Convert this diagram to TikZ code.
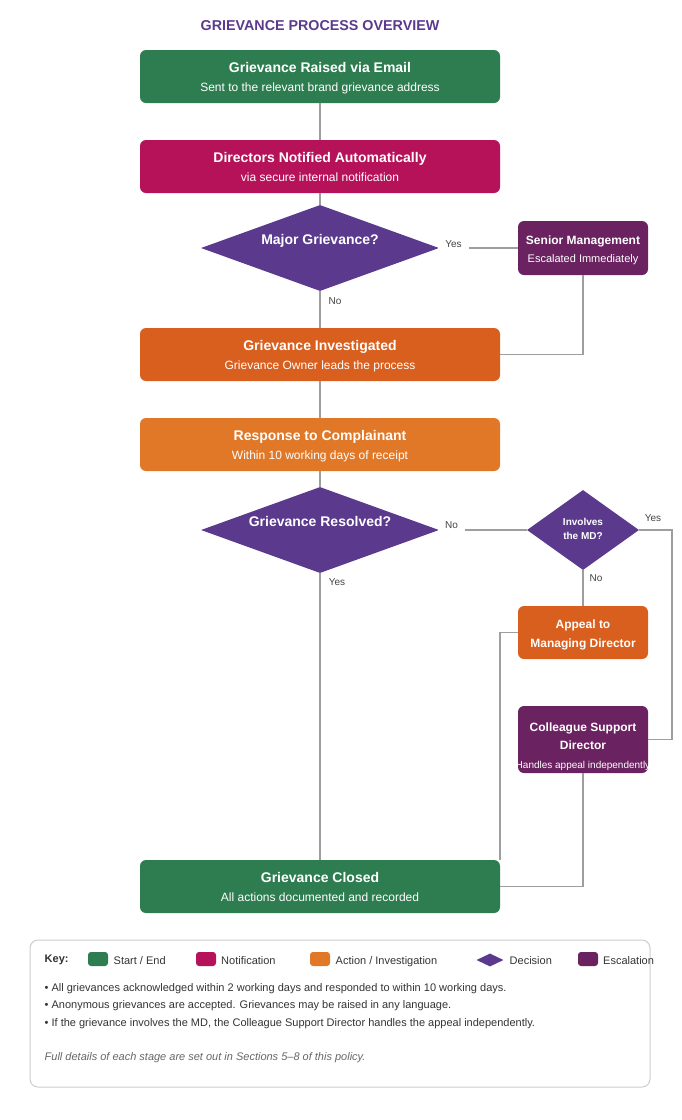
\documentclass[tikz,border=0pt]{standalone}
\usepackage{fontspec}
\setmainfont{Liberation Sans}
\usetikzlibrary{shapes.geometric}
\definecolor{cGreen}{RGB}{46,125,80}
\definecolor{cMag}{RGB}{181,18,90}
\definecolor{cDec}{RGB}{91,58,142}
\definecolor{cEsc}{RGB}{106,34,96}
\definecolor{cOrD}{RGB}{217,95,30}
\definecolor{cOrL}{RGB}{224,120,40}
\definecolor{cLine}{RGB}{158,158,158}
\definecolor{cLab}{RGB}{68,68,68}
\definecolor{cTxt}{RGB}{51,51,51}
\definecolor{cNote}{RGB}{102,102,102}
\definecolor{cKey}{RGB}{204,204,204}
\tikzset{
  box/.style={rounded corners=6pt, minimum width=360pt, minimum height=53pt, inner sep=0pt},
  sbox/.style={rounded corners=6pt, minimum width=130pt, minimum height=53pt, inner sep=0pt},
  dec/.style={diamond, fill=cDec, inner sep=0pt},
  txt/.style={anchor=mid, yshift=-2.5pt},
  ttl/.style={txt, text=white, font=\bfseries\fontsize{14}{16}\selectfont},
  stl/.style={txt, text=white, font=\bfseries\fontsize{12}{14}\selectfont},
  sub/.style={txt, text=white, font=\fontsize{12}{14}\selectfont},
  ssub/.style={txt, text=white, font=\fontsize{11}{13}\selectfont},
  lab/.style={txt, text=cLab, font=\fontsize{10}{12}\selectfont},
  gaplab/.style={lab, fill=white, inner xsep=7pt, inner ysep=6pt},
  conn/.style={draw=cLine, line width=1.5pt},
  swatch/.style={rounded corners=3pt, minimum width=20pt, minimum height=14pt, inner sep=0pt},
  keytxt/.style={text=cTxt, font=\fontsize{11}{13}\selectfont, anchor=mid west, inner sep=0pt, yshift=-2pt},
  bul/.style={text=cTxt, font=\fontsize{11}{13}\selectfont, anchor=mid west, inner sep=0pt, yshift=-2pt},
}
\begin{document}
\begin{tikzpicture}[x=1pt,y=-1pt]
\path[use as bounding box] (0,0) rectangle (682,1120);

\node[txt, text=cDec, font=\bfseries\fontsize{14.3}{16}\selectfont] (title) at (320,25) {GRIEVANCE PROCESS OVERVIEW};

% nodes
\node[box, fill=cGreen] (b1) at (320,76.5) {};
\node[box, fill=cMag] (b2) at (320,166.5) {};
\node[dec, minimum width=238pt, minimum height=86pt] (d1) at (320,248) {};
\node[sbox, fill=cEsc, minimum height=54pt] (sm) at (583,248) {};
\node[box, fill=cOrD] (b3) at (320,354.5) {};
\node[box, fill=cOrL] (b4) at (320,444.5) {};
\node[dec, minimum width=238pt, minimum height=86pt] (d2) at (320,530) {};
\node[dec, minimum width=112pt, minimum height=80pt] (d3) at (583,530) {};
\node[sbox, fill=cOrD] (ap) at (583,632.5) {};
\node[sbox, fill=cEsc, minimum height=67pt] (cs) at (583,739.5) {};
\node[box, fill=cGreen] (cl) at (320,886.5) {};

% texts
\node[ttl] (t1) at (320,67) {Grievance Raised via Email};
\node[sub] (s1) at (320,86) {Sent to the relevant brand grievance address};
\node[ttl] (t2) at (320,157) {Directors Notified Automatically};
\node[sub] (s2) at (320,176) {via secure internal notification};
\node[ttl] (td1) at (320,239) {Major Grievance?};
\node[stl] (tsm) at (583,239) {Senior Management};
\node[ssub] (ssm) at (583,257) {Escalated Immediately};
\node[ttl] (t3) at (320,345.5) {Grievance Investigated};
\node[sub] (s3) at (320,364) {Grievance Owner leads the process};
\node[ttl] (t4) at (320,435.5) {Response to Complainant};
\node[sub] (s4) at (320,454) {Within 10 working days of receipt};
\node[ttl] (td2) at (320,521) {Grievance Resolved?};
\node[txt, text=white, font=\bfseries\fontsize{10}{12}\selectfont] (td3a) at (583,520) {Involves};
\node[txt, text=white, font=\bfseries\fontsize{10}{12}\selectfont] (td3b) at (583,534) {the MD?};
\node[stl] (tapa) at (583,623) {Appeal to};
\node[stl] (tapb) at (583,642) {Managing Director};
\node[stl] (tcsa) at (583,726) {Colleague Support};
\node[stl] (tcsb) at (583,744) {Director};
\begin{scope}
\clip (cs.south west) rectangle (cs.north east);
\node[txt, text=white, font=\fontsize{10}{12}\selectfont] (scs) at (583,763) {Handles appeal independently};
\end{scope}
\node[ttl] (tcl) at (320,877.5) {Grievance Closed};
\node[sub] (scl) at (320,896) {All actions documented and recorded};

% connectors
\draw[conn] (b1.south) -- (b2.north);
\draw[conn] (b2.south) -- (d1.north);
\draw[conn] (d1.east) -- (sm.west);
\node[gaplab] (y1) at (453.5,242) {Yes};
\draw[conn] (d1.south) -- (b3.north);
\node[lab] (n1) at (335,299) {No};
\draw[conn] (sm.south) |- (b3.east);
\draw[conn] (b3.south) -- (b4.north);
\draw[conn] (b4.south) -- (d2.north);
\draw[conn] (d2.east) -- (d3.west);
\node[gaplab] (n2) at (451.5,523) {No};
\draw[conn] (d2.south) -- (cl.north);
\node[lab] (y2) at (337,580) {Yes};
\draw[conn] (d3.east) -- ++(33,0) |- (cs.east);
\node[lab] (y3) at (653,516) {Yes};
\draw[conn] (d3.south) -- (ap.north);
\node[lab] (n3) at (596,576) {No};
\draw[conn] (ap.west) -| (cl.north east);
\draw[conn] (cs.south) |- (cl.east);

% key
\node[draw=cKey, line width=1pt, rounded corners=8pt, minimum width=620pt, minimum height=147pt, inner sep=0pt] (keybox) at (340,1013.5) {};
\node[text=cTxt, font=\bfseries\fontsize{11}{13}\selectfont, anchor=mid west, inner sep=0pt, yshift=-2pt] (keyl) at (44.5,958) {Key:};
\node[swatch, fill=cGreen] (kg) at (98,959) {};
\node[keytxt] (kgt) at (113.5,960) {Start / End};
\node[swatch, fill=cMag] (km) at (206,959) {};
\node[keytxt] (kmt) at (221,960) {Notification};
\node[swatch, fill=cOrL] (ko) at (320,959) {};
\node[keytxt] (kot) at (335.5,960) {Action / Investigation};
\node[dec, minimum width=27pt, minimum height=13pt] (kd) at (490,960) {};
\node[keytxt] (kdt) at (509.5,960) {Decision};
\node[swatch, fill=cEsc] (ke) at (588,959) {};
\node[keytxt] (ket) at (603,960) {Escalation};
\node[bul] (bl1) at (44.5,986.5) {• All grievances acknowledged within 2 working days and responded to within 10 working days.};
\node[bul] (bl2) at (44.5,1004) {• Anonymous grievances are accepted. Grievances may be raised in any language.};
\node[bul] (bl3) at (44.5,1022) {• If the grievance involves the MD, the Colleague Support Director handles the appeal independently.};
\node[text=cNote, font=\itshape\fontsize{11}{13}\selectfont, anchor=mid west, inner sep=0pt, yshift=-2pt] (note) at (44.5,1056) {Full details of each stage are set out in Sections 5–8 of this policy.};
\end{tikzpicture}
\end{document}
